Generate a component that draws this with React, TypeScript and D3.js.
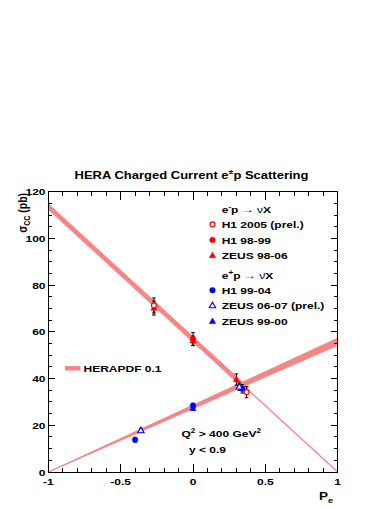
import React, { useEffect, useRef } from 'react'
import * as d3 from 'd3'

// HERA charged current cross sections vs lepton polarisation
const FONT = 'Liberation Sans, Arial, Helvetica, sans-serif'
const SQ = 0.8 // the reference text is squashed vertically

const xTickValues = [-1, -0.5, 0, 0.5, 1]
const xTickLabels = ['-1', '-0.5', '0', '0.5', '1']
const yTickValues = [0, 20, 40, 60, 80, 100, 120]
const yTickLabels = ['0', '20', '40', '60', '80', '100', '120']

// e-p data
const h1_2005Pe = [-0.27, 0.37]
const h1_2005Sig = [71.3, 34.2]
const h1_2005Err = [3.2, 2.4]

const h1_9899Pe = [0]
const h1_9899Sig = [56.9]
const h1_9899Err = [2.8]

const zeus9806Pe = [-0.27, 0, 0.30]
const zeus9806Sig = [70.2, 56.2, 39.6]
const zeus9806Err = [3.0, 2.0, 2.4]

// e+p data
const h1_9904Pe = [-0.40, 0, 0.34]
const h1_9904Sig = [13.8, 28.4, 35.6]
const h1_9904Err = [1.0, 1.0, 1.8]

const zeus0607Pe = [-0.36, 0.32]
const zeus0607Sig = [17.8, 36.5]
const zeus0607Err = [0.9, 1.6]

const zeus9900Pe = [0]
const zeus9900Sig = [27.3]
const zeus9900Err = [0.9]

// HERAPDF 0.1 predictions
const emLinePe = [-1, 1]
const emLineSig = [113.6, 0]
const emBandPe = [-1, 0.38]
const emBandLo = [112.4, 34.0]
const emBandHi = [114.8, 36.4]
const epBandPe = [-1, 1]
const epBandLo = [0, 54.3]
const epBandHi = [0, 57.3]

const BAND = '#f78585'
const RED = '#ff0000'
const BLUE = '#0000ff'

type Part = { t: string, sup?: boolean, sub?: boolean, normal?: boolean }

function App () {
  const ref = useRef<SVGSVGElement>(null)

  useEffect(() => {
    const svg = d3.select(ref.current)
    svg.selectAll('*').remove()

    const left = 48.3
    const right = 337.7
    const top = 191.7
    const bottom = 472

    const x = d3.scaleLinear().domain([-1, 1]).range([left, right])
    const y = d3.scaleLinear().domain([0, 120]).range([bottom, top])

    // text helper: parts with sub/superscripts, squashed vertically
    function label (px: number, py: number, parts: Part[], size: number, anchor = 'start', rot = false) {
      const t = svg.append('text')
        .attr('transform', rot
          ? `translate(${px},${py}) scale(1,${SQ}) rotate(-90)`
          : `translate(${px},${py}) scale(1,${SQ})`)
        .attr('font-family', FONT)
        .attr('font-weight', 'bold')
        .attr('font-size', size)
        .attr('text-anchor', anchor)
        .attr('fill', '#000')
      let shift = 0
      parts.forEach(p => {
        const target = p.sup ? -size * 0.42 : p.sub ? size * 0.3 : 0
        t.append('tspan')
          .attr('dy', target - shift)
          .attr('font-size', p.sup || p.sub ? size * 0.68 : size)
          .attr('font-weight', p.normal ? 'normal' : 'bold')
          .text(p.t)
        shift = target
      })
      return t
    }

    // bands
    const area = d3.area<number>()
      .x(i => x(epBandPe[i]))
      .y0(i => y(epBandLo[i]))
      .y1(i => y(epBandHi[i]))
    svg.append('path')
      .attr('d', area([0, 1]))
      .attr('fill', BAND)
      .attr('stroke', BAND)
      .attr('stroke-width', 1)

    const areaEm = d3.area<number>()
      .x(i => x(emBandPe[i]))
      .y0(i => y(emBandLo[i]))
      .y1(i => y(emBandHi[i]))
    svg.append('path')
      .attr('d', areaEm([0, 1]))
      .attr('fill', BAND)
      .attr('stroke', BAND)
      .attr('stroke-width', 0.8)

    const line = d3.line<number>()
      .x(i => x(emLinePe[i]))
      .y(i => y(emLineSig[i]))
    svg.append('path')
      .attr('d', line([0, 1]))
      .attr('fill', 'none')
      .attr('stroke', BAND)
      .attr('stroke-width', 1.3)

    // markers
    const tri = 'M0,-3.3L3.2,2.3L-3.2,2.3Z'
    function marker (g: any, kind: string, color: string, cx: number, cy: number) {
      if (kind === 'circle' || kind === 'ocircle') {
        g.append('circle')
          .attr('cx', cx).attr('cy', cy).attr('r', kind === 'circle' ? 2.8 : 2.5)
          .attr('fill', kind === 'circle' ? color : '#fff')
          .attr('stroke', color)
          .attr('stroke-width', kind === 'circle' ? 0.5 : 1.2)
      } else {
        g.append('path')
          .attr('d', tri)
          .attr('transform', `translate(${cx},${cy})`)
          .attr('fill', kind === 'tri' ? color : '#fff')
          .attr('stroke', color)
          .attr('stroke-width', kind === 'tri' ? 0.5 : 1.1)
      }
    }

    const sets = [
      { pe: zeus9806Pe, sig: zeus9806Sig, err: zeus9806Err, kind: 'tri', color: RED },
      { pe: h1_9899Pe, sig: h1_9899Sig, err: h1_9899Err, kind: 'circle', color: RED },
      { pe: h1_2005Pe, sig: h1_2005Sig, err: h1_2005Err, kind: 'ocircle', color: RED },
      { pe: zeus9900Pe, sig: zeus9900Sig, err: zeus9900Err, kind: 'tri', color: BLUE },
      { pe: h1_9904Pe, sig: h1_9904Sig, err: h1_9904Err, kind: 'circle', color: BLUE },
      { pe: zeus0607Pe, sig: zeus0607Sig, err: zeus0607Err, kind: 'otri', color: BLUE }
    ]

    const eg = svg.append('g').attr('stroke', '#000').attr('stroke-width', 1)
    sets.forEach(s => {
      s.pe.forEach((p, i) => {
        const cx = x(p)
        eg.append('line')
          .attr('x1', cx).attr('x2', cx)
          .attr('y1', y(s.sig[i] - s.err[i])).attr('y2', y(s.sig[i] + s.err[i]))
        ;[s.sig[i] - s.err[i], s.sig[i] + s.err[i]].forEach(v => {
          eg.append('line')
            .attr('x1', cx - 1.8).attr('x2', cx + 1.8)
            .attr('y1', y(v)).attr('y2', y(v))
        })
      })
    })
    const mg = svg.append('g')
    sets.forEach(s => {
      s.pe.forEach((p, i) => marker(mg, s.kind, s.color, x(p), y(s.sig[i])))
    })

    // frame and ticks
    const fg = svg.append('g').attr('stroke', '#000').attr('stroke-width', 1).attr('shape-rendering', 'crispEdges')
    fg.append('rect')
      .attr('x', left).attr('y', top)
      .attr('width', right - left).attr('height', bottom - top)
      .attr('fill', 'none')
    x.ticks(20).forEach(v => {
      const major = xTickValues.some(m => Math.abs(m - v) < 1e-6)
      const len = major ? 8.5 : 4.3
      fg.append('line').attr('x1', x(v)).attr('x2', x(v)).attr('y1', bottom).attr('y2', bottom - len)
      fg.append('line').attr('x1', x(v)).attr('x2', x(v)).attr('y1', top).attr('y2', top + len)
    })
    y.ticks(24).forEach(v => {
      const major = yTickValues.includes(v)
      const len = major ? 7 : 3.5
      fg.append('line').attr('x1', left).attr('x2', left + len).attr('y1', y(v)).attr('y2', y(v))
      fg.append('line').attr('x1', right).attr('x2', right - len).attr('y1', y(v)).attr('y2', y(v))
    })

    // tick labels
    xTickValues.forEach((v, i) => label(x(v), 485, [{ t: xTickLabels[i] }], 12, 'middle'))
    yTickValues.forEach((v, i) => label(45.5, y(v) + 3.6, [{ t: yTickLabels[i] }], 12, 'end'))

    // axis titles
    label(333, 499.5, [{ t: 'P' }, { t: 'e', sub: true }], 13.5, 'end')
    label(26.5, 193, [{ t: 'σ', normal: false }, { t: 'CC', sub: true }, { t: ' (pb)' }], 13, 'end', true)

    // title
    label(191.5, 178.5, [{ t: 'HERA Charged Current e' }, { t: '±', sup: true }, { t: 'p Scattering' }], 13, 'middle')

    // legend
    const lx = 221.7
    const mx = 212.5
    label(lx, 213, [{ t: 'e' }, { t: '-', sup: true }, { t: 'p ' }, { t: '→', normal: true }, { t: ' ' }, { t: 'ν', normal: true }, { t: 'X' }], 12)
    label(lx, 227.8, [{ t: 'H1 2005 (prel.)' }], 12)
    label(lx, 243.5, [{ t: 'H1 98-99' }], 12)
    label(lx, 258.8, [{ t: 'ZEUS 98-06' }], 12)
    label(lx, 279.3, [{ t: 'e' }, { t: '+', sup: true }, { t: 'p ' }, { t: '→', normal: true }, { t: ' ' }, { t: 'ν\u0304', normal: true }, { t: 'X' }], 12)
    label(lx, 293.8, [{ t: 'H1 99-04' }], 12)
    label(lx, 309, [{ t: 'ZEUS 06-07 (prel.)' }], 12)
    label(lx, 324.8, [{ t: 'ZEUS 99-00' }], 12)
    marker(svg, 'ocircle', RED, mx, 224.3)
    marker(svg, 'circle', RED, mx, 240)
    marker(svg, 'tri', RED, mx, 255.4)
    marker(svg, 'circle', BLUE, mx, 290.2)
    marker(svg, 'otri', BLUE, mx, 305.5)
    marker(svg, 'tri', BLUE, mx, 321.3)

    svg.append('line')
      .attr('x1', 65).attr('x2', 80.5)
      .attr('y1', 368.3).attr('y2', 368.3)
      .attr('stroke', BAND).attr('stroke-width', 4.5)
    label(83.5, 372, [{ t: 'HERAPDF 0.1' }], 12)

    // cuts
    label(181.5, 437, [{ t: 'Q' }, { t: '2', sup: true }, { t: ' > 400 GeV' }, { t: '2', sup: true }], 12)
    label(189, 453, [{ t: 'y < 0.9' }], 12)
  }, [])

  return (
    <svg
      ref={ref}
      width={392}
      height={508}
      style={{ position: 'absolute', left: 0, top: 0, background: '#fff' }}
    />
  )
}

export default App
